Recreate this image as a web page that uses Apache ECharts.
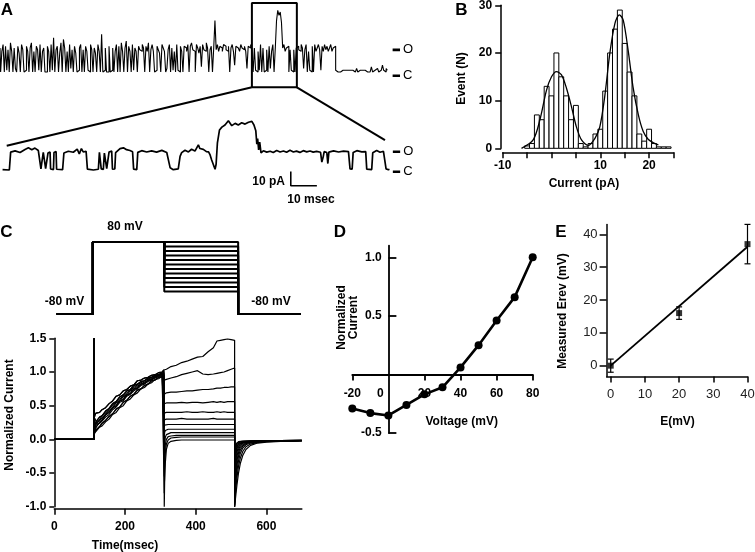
<!DOCTYPE html>
<html><head><meta charset="utf-8">
<script src="https://cdn.jsdelivr.net/npm/echarts@6/dist/echarts.min.js"></script>
<style>html,body{margin:0;padding:0;background:#fff}#c{width:755px;height:552px}</style>
</head><body><div id="c"></div>
<script>
const FF = '"Liberation Sans", Arial, Helvetica, sans-serif';

// ---------- Panel A : single-channel recording ----------
const topDt = 4; // ms per sample
const topTrace = [
14,0,12,16,0,15,1,13,0,17,12,0,14,2,0,15,11,0,16,13,0,1,15,12,0,14,17,0,12,0,15,13,1,16,0,12,14,0,0,15,
12,0,16,1,20,0,13,15,0,11,17,0,19,14,0,12,0,16,2,13,0,15,11,0,1,14,16,0,13,0,15,12,1,0,16,13,0,14,11,0,
16,12,
0,22,0,1,14,0,0,15,0,1,
14,0,12,16,0,15,0,17,12,0,14,18,0,15,12,0,16,1,14,12,0,15,13,
12,16,14,0,15,12,17,0,13,16,12,0,1,15,13,11,0,16,14,12,0,2,13,16,
0,14,1,12,0,16,1,0,15,12,0,15,
14,12,16,0,15,17,13,12,0,16,14,11,15,3,16,13,12,17,14,0,13,15,
0,14,30,13,16,12,15,14,12,16,15,13,12,15,0,14,16,12,4,15,14,13,12,16,14,13,15,12,2,15,14,16,13,
0,14,1,0,12,1,16,0,14,0,1,13,0,15,2,12,16,0,14,
30,36,33,35,29,
14,16,12,14,15,0,13,1,0,13,0,14,
15,13,12,16,14,2,13,16,0,12,1,0,15,0,16,12,14,16,13,1,15,12,16,13,15,12,14,16,12,14,15,
1,0,1,0,0,1,0,1,0,1,2,1,0,1,0,0,1,2,0,1,0,1,0,1,2,0,1,0,1,3,0,1,0,2,1,0,1,0,4,1,0,2,1
];
const zoomTrace = [
[-1.7,0.3],[0.9,0],[1.4,12.5],[3.1,13.4],[5.0,12.2],[6.9,14.3],[8.2,15.5],[9.5,14.2],[10.7,15.3],[12.0,13.6],
[12.6,12.9],[13.0,0.8],[13.7,0.5],[13.9,12.4],[14.6,12.8],[14.8,1.0],[15.5,0.4],[15.7,11.8],[16.5,12.6],[16.7,0.7],
[17.8,0.3],[18.0,12.2],[18.8,12.9],[19.0,0.5],[21.3,0.2],[21.8,11.9],[23.5,13.1],[25.4,12.4],[26.9,14.6],[27.7,11.2],
[28.5,15.0],[29.2,12.6],[30.3,13.1],[30.8,0.6],[33.1,0.0],[35.0,0.5],[35.4,12.4],[35.9,12.9],[36.1,0.8],[36.9,0.4],
[37.3,11.8],[37.9,12.8],[38.2,0.9],[38.8,0.3],[39.1,12.6],[40.1,13.2],[40.4,0.5],[41.3,0.7],[41.6,12.1],[43.3,14.9],
[44.6,15.5],[45.8,14.2],[47.1,13.6],[48.1,12.8],[48.5,0.6],[49.7,0.2],[50.1,12.3],[51.6,13.5],[53.5,12.6],[55.4,13.4],
[57.3,12.5],[59.3,13.7],[61.2,12.2],[61.8,11.8],[62.5,1.5],[63.7,0.2],[65.6,0.8],[66.3,9.5],[66.9,12.1],[68.2,13.8],
[69.5,12.6],[70.7,14.5],[72.0,13.2],[73.3,17.5],[73.9,15.0],[75.2,14.4],[76.4,12.8],[77.2,12.6],[77.8,10.5],[78.4,7.0],
[79.1,3.5],[79.7,0.5],[80.1,4.0],[80.6,19.0],[81.4,28.0],[82.3,30.0],[83.5,31.5],[84.8,34.5],[86.1,31.0],[87.4,32.6],
[88.6,31.5],[89.9,33.0],[91.2,32.1],[92.5,33.4],[93.8,34.0],[94.6,31.5],[95.3,27.5],[95.7,18.0],[96.0,22.0],[96.4,14.0],
[96.8,19.5],[97.3,12.0],[98.2,13.4],[99.5,12.5],[100.8,13.1],[102.0,12.2],[103.3,13.6],[104.6,12.6],[105.9,13.3],[107.1,12.4],
[108.4,13.8],[109.7,12.6],[110.9,13.2],[112.2,12.3],[113.5,13.5],[114.8,12.7],[116.1,13.3],[117.3,12.5],[118.6,13.0],[120.1,12.4],
[120.6,5.5],[121.1,9.0],[121.5,12.8],[122.5,12.2],[122.9,4.5],[123.3,12.5],[125.1,13.4],[127.0,12.6],[128.9,13.2],[130.8,12.8],
[131.4,0.8],[132.2,0.5],[132.6,12.3],[134.0,13.5],[135.9,12.7],[137.4,12.9],[137.8,0.6],[139.7,0.3],[140.1,12.0],[141.6,13.6],
[142.9,12.4],[144.2,13.1],[144.8,12.6],[145.2,0.8],[146.1,0.2],[146.5,0.5]
];
const zoomBox = [[818,-8.93],[964,-8.93],[964,40.3],[818,40.3],[818,-8.93]];
const zoomLinkLeft = [[818,-8.93],[21.8,-43.0]];
const zoomLinkRight = [[964,-8.93],[1250.2,-39.7]];
const topLevels = {O: 12.9, C: -2.2};
const topMarkT = [1275, 1299];
const zoomLevels = {O: 12.8, C: -1.2};
const zoomMarkT = [147.8, 150.6];
const scaleBar = [[108.7,-1.0],[108.7,-11.0],[118.7,-11.0]];

// ---------- Panel B : amplitude histogram ----------
const histCenters = [-5,-4,-3,-2,-1,0,1,2,3,4,5,6,7,8,9,10,11,12,13,14,15,16,17,18,19,20,21,22,23,24];
const histCounts  = [0.5,1,7,6,13,11,20,15,11,6,9,1,0.3,1,3,4,12,20,25,29,22,16,11,3,1.5,4,1,0.3,0.3,0.3];
const binWidth = 1;
const gaussX = [-6.15,-3.76,-2.39,-1.02,0,1.02,2.05,3.07,4.1,5.1,6.15,7.5,8.9,9.9,10.9,11.95,13.0,13.9,14.7,15.7,16.7,17.8,18.8,19.8,20.8,21.9];
const gaussY = [0,1.75,5.9,12.2,15.0,16.1,15.4,12.6,8.7,4.5,1.75,0.6,2.1,4.5,10.8,19.9,26.2,28.0,26.9,20.6,12.9,7.0,3.5,1.9,1.2,0.7];
const histTickX = [-10,-5,0,5,10,15,20,25];
const histLabelX = [-10,10,20];

// ---------- Panel C : voltage protocol + currents ----------
const protoT = [7,109,311,520,697];
const restV = -80, preV = 80;
const stepV = [80,70,60,50,40,30,20,10,0,-10,-20,-30];
const baseT = [0,113];
const capPeak = 1.5;
const actT = [113,115,118,122,128,135,145,155,165,175,185,195,205,215,225,235,245,255,265,275,285,295,305,310];
const actTraces = [
[0.32,0.36,0.39,0.41,0.40,0.44,0.47,0.53,0.57,0.64,0.66,0.72,0.74,0.79,0.81,0.87,0.88,0.91,0.92,0.95,0.96,0.99,1.0,1.03],
[0.12,0.2,0.26,0.29,0.33,0.35,0.42,0.46,0.53,0.56,0.63,0.66,0.72,0.74,0.8,0.82,0.86,0.87,0.91,0.92,0.95,0.96,0.99,1.0],
[0.1,0.13,0.18,0.21,0.25,0.29,0.36,0.4,0.47,0.5,0.57,0.59,0.66,0.68,0.75,0.76,0.82,0.83,0.88,0.89,0.93,0.94,0.97,0.98],
[0.16,0.11,0.12,0.16,0.19,0.24,0.28,0.34,0.38,0.45,0.48,0.55,0.58,0.64,0.67,0.73,0.75,0.8,0.82,0.87,0.88,0.92,0.93,0.96],
[0.26,0.31,0.27,0.22,0.24,0.27,0.33,0.37,0.44,0.48,0.55,0.57,0.64,0.67,0.72,0.75,0.8,0.82,0.86,0.88,0.91,0.93,0.96,0.99],
[0.08,0.1,0.12,0.13,0.18,0.2,0.26,0.3,0.37,0.4,0.47,0.5,0.57,0.6,0.66,0.69,0.75,0.77,0.82,0.84,0.89,0.9,0.94,0.95],
[0.2,0.25,0.22,0.25,0.28,0.32,0.37,0.43,0.47,0.54,0.57,0.63,0.66,0.72,0.74,0.79,0.82,0.85,0.87,0.9,0.92,0.95,0.98,1.01],
[0.14,0.17,0.22,0.26,0.29,0.35,0.39,0.45,0.5,0.55,0.6,0.64,0.69,0.73,0.77,0.81,0.84,0.87,0.89,0.92,0.94,0.96,0.98,1.0]
];
const stepT = [311,312,314,317,322,330,345,360,375,390,405,420,435,450,460,470,480,490,500,510];
const stepTraces = [
[1.02,1.03,1.05,1.04,1.06,1.08,1.10,1.14,1.16,1.19,1.22,1.23,1.30,1.36,1.46,1.47,1.48,1.49,1.48,1.47],
[0.88,0.87,0.88,0.89,0.90,0.91,0.93,0.96,0.98,1.00,1.02,0.97,0.96,0.97,0.98,0.99,1.00,1.02,1.04,1.06],
[0.67,0.68,0.68,0.69,0.69,0.70,0.70,0.71,0.72,0.72,0.73,0.74,0.74,0.75,0.76,0.76,0.77,0.77,0.78,0.78],
[0.53,0.53,0.53,0.54,0.53,0.54,0.54,0.55,0.54,0.55,0.55,0.54,0.55,0.56,0.55,0.56,0.55,0.56,0.56,0.56],
[0.39,0.39,0.40,0.40,0.39,0.40,0.40,0.40,0.41,0.40,0.40,0.41,0.40,0.40,0.41,0.40,0.41,0.40,0.40,0.40],
[0.29,0.30,0.30,0.30,0.30,0.30,0.30,0.31,0.30,0.30,0.30,0.30,0.30,0.31,0.30,0.30,0.30,0.30,0.30,0.30],
[0.18,0.21,0.22,0.22,0.22,0.22,0.22,0.22,0.22,0.22,0.22,0.22,0.22,0.22,0.22,0.22,0.22,0.22,0.22,0.22],
[0.02,0.10,0.13,0.15,0.15,0.15,0.15,0.15,0.15,0.15,0.15,0.15,0.15,0.15,0.15,0.15,0.15,0.15,0.15,0.15],
[-0.30,-0.08,0.03,0.07,0.09,0.10,0.10,0.10,0.10,0.10,0.10,0.10,0.10,0.10,0.10,0.10,0.10,0.10,0.10,0.10],
[-0.55,-0.25,-0.08,0.0,0.04,0.05,0.06,0.06,0.06,0.06,0.06,0.06,0.06,0.06,0.06,0.06,0.06,0.06,0.06,0.06],
[-0.80,-0.45,-0.2,-0.07,-0.01,0.02,0.03,0.035,0.035,0.035,0.035,0.035,0.035,0.035,0.035,0.035,0.035,0.035,0.035,0.035],
[-1.0,-0.65,-0.35,-0.15,-0.06,-0.03,-0.015,-0.01,-0.01,-0.01,-0.01,-0.01,-0.01,-0.01,-0.01,-0.01,-0.01,-0.01,-0.01,-0.01]
];
const tailT = [510,511,512,514,517,521,526,533,542,555,575,600,640,700];
const tailTraces = [
[-1.0,-0.95,-0.9,-0.8,-0.66,-0.5,-0.36,-0.24,-0.15,-0.09,-0.055,-0.04,-0.03,-0.022],
[-1.0,-0.9,-0.82,-0.7,-0.55,-0.4,-0.28,-0.18,-0.11,-0.07,-0.045,-0.035,-0.028,-0.02],
[-1.0,-0.85,-0.75,-0.6,-0.45,-0.32,-0.21,-0.13,-0.08,-0.055,-0.04,-0.032,-0.026,-0.02],
[-0.98,-0.8,-0.68,-0.52,-0.37,-0.25,-0.16,-0.1,-0.065,-0.045,-0.035,-0.03,-0.024,-0.019],
[-0.95,-0.75,-0.6,-0.44,-0.3,-0.2,-0.12,-0.08,-0.055,-0.04,-0.032,-0.028,-0.023,-0.018],
[-0.92,-0.68,-0.52,-0.36,-0.24,-0.15,-0.09,-0.06,-0.045,-0.035,-0.03,-0.026,-0.022,-0.018],
[-0.9,-0.6,-0.44,-0.29,-0.18,-0.11,-0.07,-0.05,-0.04,-0.032,-0.028,-0.025,-0.021,-0.017],
[-0.85,-0.52,-0.36,-0.22,-0.13,-0.08,-0.055,-0.042,-0.035,-0.03,-0.026,-0.023,-0.02,-0.017],
[-0.8,-0.45,-0.29,-0.17,-0.1,-0.065,-0.047,-0.037,-0.032,-0.028,-0.025,-0.022,-0.02,-0.016],
[-0.75,-0.38,-0.22,-0.12,-0.075,-0.05,-0.04,-0.033,-0.03,-0.026,-0.024,-0.021,-0.019,-0.016],
[-0.7,-0.3,-0.16,-0.09,-0.055,-0.04,-0.033,-0.03,-0.027,-0.025,-0.022,-0.02,-0.018,-0.015],
[-0.65,-0.25,-0.12,-0.07,-0.045,-0.035,-0.03,-0.027,-0.025,-0.023,-0.021,-0.019,-0.017,-0.015]
];
const timeTicks = [0,200,400,600];

// ---------- Panel D : I-V relation ----------
const ivVoltage = [-20,-10,0,10,20,30,40,50,60,70,80];
const ivCurrent = [-0.29,-0.33,-0.35,-0.26,-0.17,-0.11,0.06,0.25,0.46,0.66,1.0];
const ivRangeX = [-20,80];
const ivRangeY = [-0.5,1.1];
const ivTickX = [-20,20,40,60,80];
const ivLabelX = [-20,0,20,40,60,80];
const ivTickY = [-0.5,0.5,1.0];

// ---------- Panel E : measured vs. expected reversal ----------
const eExpected = [0,20,40];
const eMeasured = [0,16,37];
const eError = [2,1.9,6];
const eFitX = [0,40];
const eFitY = [0,36.2];
const eTicks = [0,10,20,30,40];

// ---------- helpers ----------
function axis(o) {
  const base = {
    type: 'value', splitLine: {show: false},
    axisLine: {show: true, onZero: false, lineStyle: {color: '#000', width: 1.5}},
    axisTick: {show: true, length: 6, lineStyle: {color: '#000', width: 1.5}},
    axisLabel: {show: true, color: '#000', fontFamily: FF, fontWeight: 'bold', fontSize: 12}
  };
  for (const k in o) {
    if (base[k] && typeof base[k] === 'object' && !Array.isArray(base[k]) && typeof o[k] === 'object') {
      base[k] = Object.assign({}, base[k], o[k]);
    } else base[k] = o[k];
  }
  return base;
}
const hidden = (g, min, max) => ({type: 'value', gridIndex: g, min, max, show: false});
const blk = (w) => ({color: '#000', width: w});

const series = [];
// A
series.push({type:'line', xAxisIndex:0, yAxisIndex:0, symbol:'none', step:'middle', lineStyle: blk(1.1),
  data: topTrace.map((v, i) => [i * topDt, v])});
series.push({type:'line', xAxisIndex:0, yAxisIndex:0, symbol:'none', lineStyle: blk(2), data: zoomBox});
series.push({type:'line', xAxisIndex:0, yAxisIndex:0, symbol:'none', lineStyle: blk(2), data: zoomLinkLeft});
series.push({type:'line', xAxisIndex:0, yAxisIndex:0, symbol:'none', lineStyle: blk(2), data: zoomLinkRight});
series.push({type:'line', xAxisIndex:1, yAxisIndex:1, symbol:'none', lineStyle: blk(1.7), data: zoomTrace});
series.push({type:'line', xAxisIndex:1, yAxisIndex:1, symbol:'none', lineStyle: blk(1.6), data: scaleBar});
function levelMark(xi, yi, ts, level, txt) {
  return {type:'line', xAxisIndex:xi, yAxisIndex:yi, symbol:'none', lineStyle: blk(2.6),
    data: ts.map(t => [t, level]),
    endLabel: {show: true, formatter: txt, color: '#000', fontFamily: FF, fontSize: 13, distance: 3}};
}
series.push(levelMark(0, 0, topMarkT, topLevels.O, 'O'));
series.push(levelMark(0, 0, topMarkT, topLevels.C, 'C'));
series.push(levelMark(1, 1, zoomMarkT, zoomLevels.O, 'O'));
series.push(levelMark(1, 1, zoomMarkT, zoomLevels.C, 'C'));
// B
series.push({type:'custom', xAxisIndex:2, yAxisIndex:2,
  data: histCenters.map((c, i) => [c, histCounts[i]]),
  renderItem: (params, api) => {
    const c = api.value(0), n = api.value(1);
    const p1 = api.coord([c - binWidth / 2, n]);
    const p2 = api.coord([c + binWidth / 2, 0]);
    return {type:'rect', shape:{x:p1[0], y:p1[1], width:p2[0]-p1[0], height:p2[1]-p1[1]},
      style:{fill:'#fff', stroke:'#000', lineWidth:1}};
  }});
series.push({type:'line', xAxisIndex:2, yAxisIndex:2, symbol:'none', smooth:0.3, lineStyle: blk(1.3),
  data: gaussX.map((x, i) => [x, gaussY[i]])});
// C protocol
stepV.forEach(L => {
  series.push({type:'line', xAxisIndex:3, yAxisIndex:3, symbol:'none', lineStyle: blk(2),
    data: [[protoT[0],restV],[protoT[1],restV],[protoT[1],preV],[protoT[2],preV],[protoT[2],L],[protoT[3],L],[protoT[3],restV],[protoT[4],restV]]});
});
// C currents
stepTraces.forEach((st, k) => {
  const act = actTraces[k % actTraces.length];
  const d = [[baseT[0],0],[baseT[1],0],[baseT[1],capPeak]]
    .concat(actT.map((t, j) => [t, act[j]]))
    .concat(stepT.map((t, j) => [t, st[j]]))
    .concat(tailT.map((t, j) => [t, tailTraces[k][j]]));
  series.push({type:'line', xAxisIndex:4, yAxisIndex:4, symbol:'none', lineStyle: blk(1.2), data: d});
});
// D
series.push({type:'line', xAxisIndex:5, yAxisIndex:5, symbol:'circle', symbolSize:8,
  lineStyle: blk(2.6), itemStyle:{color:'#000'},
  data: ivVoltage.map((v, i) => [v, ivCurrent[i]])});
// E
series.push({type:'line', xAxisIndex:6, yAxisIndex:6, symbol:'none', lineStyle: blk(1.8),
  data: eFitX.map((x, i) => [x, eFitY[i]])});
series.push({type:'custom', xAxisIndex:6, yAxisIndex:6,
  data: eExpected.map((x, i) => [x, eMeasured[i], eError[i]]),
  renderItem: (params, api) => {
    const x = api.value(0), y = api.value(1), e = api.value(2);
    const lo = api.coord([x, y - e]), hi = api.coord([x, y + e]);
    const cw = 3;
    const st = {stroke:'#000', lineWidth:1.2};
    return {type:'group', children:[
      {type:'line', shape:{x1:lo[0], y1:lo[1], x2:hi[0], y2:hi[1]}, style:st},
      {type:'line', shape:{x1:lo[0]-cw, y1:lo[1], x2:lo[0]+cw, y2:lo[1]}, style:st},
      {type:'line', shape:{x1:hi[0]-cw, y1:hi[1], x2:hi[0]+cw, y2:hi[1]}, style:st}
    ]};
  }});
series.push({type:'scatter', xAxisIndex:6, yAxisIndex:6, symbol:'rect', symbolSize:6,
  itemStyle:{color:'#000'}, data: eExpected.map((x, i) => [x, eMeasured[i]])});

const tx = (text, x, y, o) => Object.assign({type:'text', x, y, silent:true,
  style:{text, fill:'#000', font: (o && o.font) || ('bold 12px ' + FF), align:(o && o.align) || 'center', verticalAlign:'middle'}},
  o && o.rot ? {rotation: o.rot} : {});
const L = 'bold 17px ' + FF;
const graphic = [
  tx('A', 7, 10, {font:L}), tx('B', 461.5, 10, {font:L}), tx('C', 6.5, 232, {font:L}),
  tx('D', 340, 232, {font:L}), tx('E', 561, 232, {font:L}),
  tx('10 pA', 285, 181.5, {align:'right'}),
  tx('10 msec', 311, 199.5),
  tx('80 mV', 125, 227), tx('-80 mV', 64.5, 301.5), tx('-80 mV', 271, 301.5),
  tx('Event (N)', 462, 78.5, {rot: Math.PI/2}),
  tx('Current (pA)', 584, 184),
  tx('Normalized Current', 9.5, 415, {rot: Math.PI/2}),
  tx('Time(msec)', 125, 545.5),
  tx('Normalized\nCurrent', 347.5, 317.5, {rot: Math.PI/2}),
  tx('Voltage (mV)', 461.7, 421.5),
  tx('Measured Erev (mV)', 562.5, 311, {rot: Math.PI/2}),
  tx('E(mV)', 677.5, 421.5)
];

const option = {
  animation: false,
  backgroundColor: '#fff',
  grid: [
    {left:0, top:0, width:420, height:200},
    {left:502.7, top:5.3, width:170.8, height:143},
    {left:54.3, top:239.75, width:247.5, height:76.5},
    {left:54.3, top:338.3, width:247.5, height:168.4},
    {left:352.3, top:245.6, width:180.4, height:187.4},
    {left:606.6, top:224.4, width:140.9, height:152.1}
  ].map(g => Object.assign(g, {containLabel:false, outerBoundsMode:'none'})),
  xAxis: [
    hidden(0, 0, 1363.9),
    hidden(0, -2.68, 158.2),
    axis({gridIndex:1, min:-10, max:25, offset:4,
      axisTick:{customValues:histTickX}, axisLabel:{customValues:histLabelX, margin:7}}),
    hidden(2, 0, 700),
    axis({gridIndex:3, min:0, max:700, offset:2,
      axisTick:{customValues:timeTicks}, axisLabel:{customValues:timeTicks, margin:12}}),
    // D: axis crosses at I = 0; labels pulled up next to it
    axis({gridIndex:4, min:ivRangeX[0], max:ivRangeX[1],
      axisLine:{onZero:true, lineStyle:{color:'#000', width:1.8}},
      axisTick:{customValues:ivTickX, lineStyle:{color:'#000', width:1.8}},
      axisLabel:{customValues:ivLabelX, margin:-45,
        formatter: v => v === 0 ? '{z|0}' : String(v),
        rich:{z:{padding:[0,16,0,0], fontFamily:FF, fontWeight:'bold', fontSize:12, color:'#000'}}}}),
    axis({gridIndex:5, min:-1.2, max:40,
      axisTick:{customValues:eTicks}, axisLabel:{customValues:eTicks, margin:11, fontWeight:'normal', fontSize:13, color:'#222'}})
  ],
  yAxis: [
    hidden(0, -74.7, 42.0),
    hidden(0, -21.0, 118.9),
    axis({gridIndex:1, min:0, max:30, interval:10, offset:1.5, axisLabel:{margin:9}}),
    hidden(2, -85, 85),
    axis({gridIndex:3, min:-1, max:1.5, interval:0.5, axisTick:{length:5},
      axisLabel:{margin:8, formatter: v => v.toFixed(1)}}),
    // D: axis crosses at V = 0; labels pulled right next to it
    axis({gridIndex:4, min:ivRangeY[0], max:ivRangeY[1],
      axisLine:{onZero:true, lineStyle:{color:'#000', width:1.8}},
      axisTick:{inside:true, length:8, customValues:ivTickY, lineStyle:{color:'#000', width:1.8}},
      axisLabel:{customValues:ivTickY, margin:-29.4, formatter: v => v.toFixed(1)}}),
    axis({gridIndex:5, min:-3.3, max:43, axisTick:{customValues:eTicks, length:7},
      axisLabel:{customValues:eTicks, margin:9, fontWeight:'normal', fontSize:13, color:'#222'}})
  ],
  series: series.map(s => Object.assign(s, {silent:true, animation:false})),
  graphic
};
const chart = echarts.init(document.getElementById('c'), null, {renderer:'canvas'});
chart.setOption(option);
</script></body></html>
